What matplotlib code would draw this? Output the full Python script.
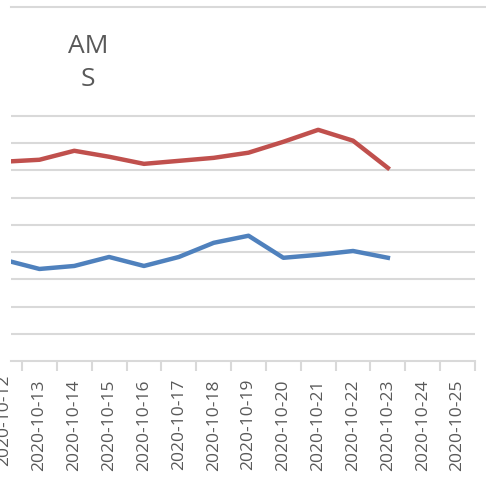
import matplotlib
matplotlib.use("Agg")
import matplotlib.pyplot as plt
from matplotlib.lines import Line2D

categories = ["2020-10-12", "2020-10-13", "2020-10-14", "2020-10-15", "2020-10-16",
              "2020-10-17", "2020-10-18", "2020-10-19", "2020-10-20", "2020-10-21",
              "2020-10-22", "2020-10-23", "2020-10-24", "2020-10-25"]
red_values = [73.2, 73.9, 77.2, 75.0, 72.4, 73.5, 74.6, 76.5, 80.5, 84.9, 80.9, 70.9]
blue_values = [37.1, 33.8, 34.9, 38.2, 34.9, 38.2, 43.4, 46.0, 37.9, 39.0, 40.4, 37.9]
grid_levels = [10, 20, 30, 40, 50, 60, 70, 80, 90]
title_text = "AM\nS"

W, H = 486, 483
fig = plt.figure(figsize=(W / 100, H / 100), dpi=100)
fig.patch.set_facecolor("white")

left_px, right_px, bottom_px, top_px = 11, 475, 361, 7
ax = fig.add_axes([left_px / W, (H - bottom_px) / H,
                   (right_px - left_px) / W, (bottom_px - top_px) / H])
ax.set_facecolor("none")

x = list(range(len(categories)))
grid_c = "#D9D9D9"
text_c = "#595959"
fam = ["Open Sans", "DejaVu Sans"]

ax.set_xlim(0.184, len(categories) - 0.5)
ax.set_ylim(0, 130)

for g in grid_levels:
    ax.axhline(g, color=grid_c, lw=1.5, zorder=0)

ax.plot(x[:len(red_values)], red_values, color="#C0504D", lw=3.2, zorder=3,
        solid_joinstyle="round")
ax.plot(x[:len(blue_values)], blue_values, color="#4F81BD", lw=3.2, zorder=3,
        solid_joinstyle="round")

for s in ["top", "left", "right"]:
    ax.spines[s].set_visible(False)
ax.spines["bottom"].set_color(grid_c)
ax.spines["bottom"].set_linewidth(1.5)
ax.set_yticks([])

ax.set_xticks(x[1:])
ax.set_xticklabels(categories[1:], rotation=90, fontsize=12.5, color=text_c,
                   family=fam, va="top")
ax.tick_params(axis="x", which="major", length=0, pad=13)
ax.set_xticks([i + 0.5 for i in range(len(categories))], minor=True)
ax.tick_params(axis="x", which="minor", length=7.5, width=1.5, color=grid_c)

# partially visible first label (its category lies left of the visible plot range)
first_label_y = ax.get_xticklabels()[0]
ax.text(0, -0.0385, categories[0], transform=ax.get_xaxis_transform(),
        rotation=90, fontsize=12.5, color=text_c, family=fam,
        ha="center", va="top", clip_on=False)

# top border line
fig.add_artist(Line2D([left_px / W, 1.0], [(H - top_px) / H] * 2, color=grid_c, lw=1.5))

fig.text(88 / W, 1 - 63 / H, title_text, ha="center", va="center", fontsize=19,
         color=text_c, family=fam, linespacing=1.45)

fig.savefig("out.png", dpi=100, facecolor="white")
